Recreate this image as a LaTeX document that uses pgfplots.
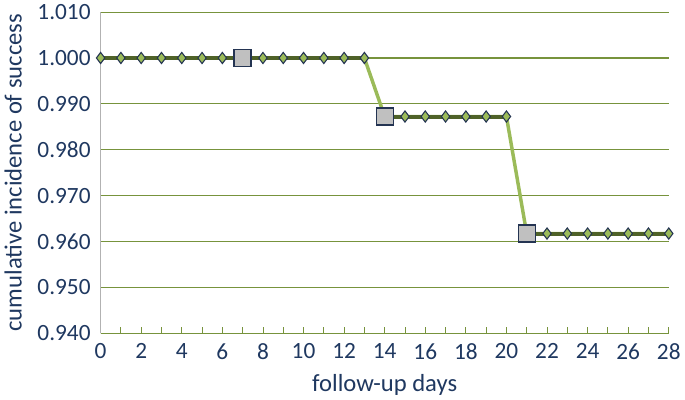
\documentclass[border=0pt]{standalone}
\usepackage{fontspec}
\setmainfont{Carlito}
\usepackage{pgfplots}
\pgfplotsset{compat=1.18}
\definecolor{txt}{RGB}{31,56,96}
\definecolor{gridg}{RGB}{119,147,60}
\definecolor{lightg}{RGB}{155,187,89}
\definecolor{darkg}{RGB}{79,98,40}
\definecolor{sqgray}{RGB}{192,192,192}
\definecolor{edge}{RGB}{36,52,82}

\begin{document}
\begin{tikzpicture}
\begin{axis}[
    scale only axis,
    width=427pt, height=241.5pt,
    xmin=0, xmax=28, ymin=0.94, ymax=1.01,
    xtick={0,2,...,28},
    minor xtick={1,3,...,27},
    ytick={0.94,0.95,...,1.01},
    yticklabels={0.940,0.950,0.960,0.970,0.980,0.990,1.000,1.010},
    axis x line*=bottom,
    axis y line*=left,
    x axis line style={draw=gridg, line width=0.8pt, -},
    y axis line style={draw=gray!60, line width=0.6pt, -},
    ymajorgrids,
    grid style={draw=gridg, line width=0.8pt},
    tick align=inside,
    xtick style={draw=gridg, line width=0.6pt},
    major tick length=5pt, minor tick length=5pt,
    ytick style={draw=none},
    clip=false,
    tick label style={font=\fontsize{17.5}{19}\selectfont, text=txt},
    xticklabel style={yshift=-4pt},
    yticklabel style={xshift=-4pt},
    label style={font=\fontsize{18.5}{21}\selectfont, text=txt},
    /pgf/number format/assume math mode=true,
    xlabel={follow-up days},
    ylabel={cumulative incidence of success},
    xlabel style={yshift=-4pt},
    ylabel style={yshift=5pt},
]
% light green line through all points
\addplot[color=lightg, line width=2.6pt, no marks] coordinates {
(0,1.000) (13,1.000) (14,0.98725) (20,0.98725) (21,0.96175) (28,0.96175)};
% dark segments with diamonds
\addplot[color=darkg, line width=3pt, mark=diamond*, mark size=4.2pt,
  mark options={fill=lightg, draw=edge, line width=0.8pt}, unbounded coords=jump] coordinates {
(0,1.000) (1,1.000) (2,1.000) (3,1.000) (4,1.000) (5,1.000) (6,1.000) (7,1.000)
(8,1.000) (9,1.000) (10,1.000) (11,1.000) (12,1.000) (13,1.000)
(13.5,nan)
(14,0.98725) (15,0.98725) (16,0.98725) (17,0.98725) (18,0.98725) (19,0.98725) (20,0.98725)
(20.5,nan)
(21,0.96175) (22,0.96175) (23,0.96175) (24,0.96175) (25,0.96175) (26,0.96175) (27,0.96175) (28,0.96175)};
% gray squares
\addplot[only marks, mark=square*, mark size=6.4pt,
  mark options={fill=sqgray, draw=edge, line width=1pt}] coordinates {
(7,1.000) (14,0.98725) (21,0.96175)};
\end{axis}
\end{tikzpicture}
\end{document}
